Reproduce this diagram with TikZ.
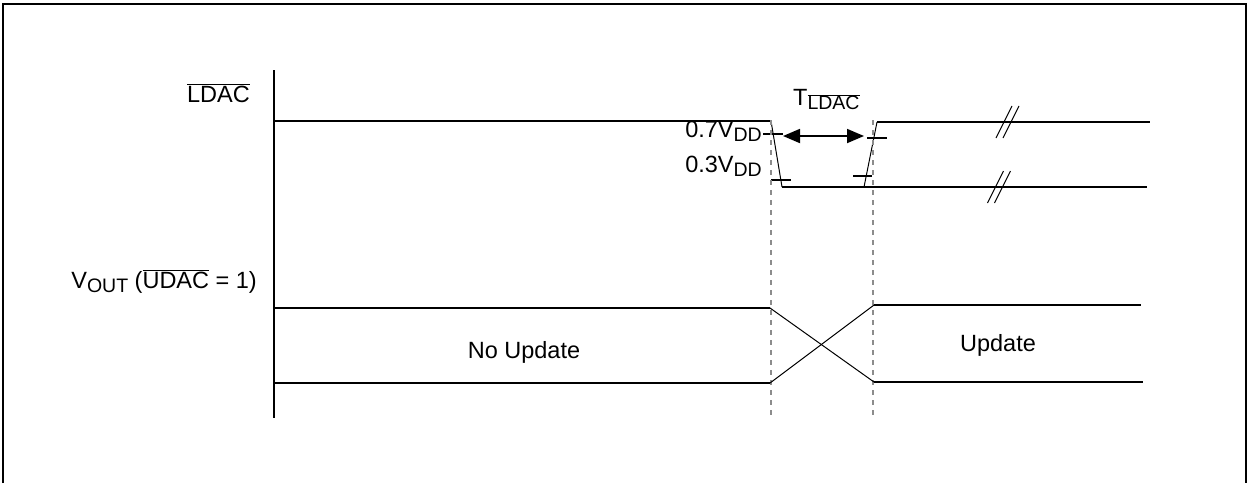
\documentclass[tikz,border=0pt]{standalone}
\usepackage{fontspec}
\setmainfont{Liberation Sans}
\usetikzlibrary{arrows.meta}

\newcommand{\lowidx}[1]{\raisebox{-0.4ex}{\fontsize{19.5}{20}\selectfont #1}}
\newcommand{\barred}[1]{$\overline{\mbox{#1}}$}

\begin{document}
\begin{tikzpicture}
		[x=1pt,y=-1pt,line cap=butt,
		%Styles
		frame line/.style={line width=2pt},
		signal line/.style={line width=2.3pt},
		edge line/.style={line width=1pt},
		guide line/.style={gray!90,line width=1.6pt,dash pattern=on 5pt off 5pt},
		tick line/.style={line width=1.5pt},
		signal text/.style={inner sep=0pt,font=\fontsize{23.5}{28}\selectfont}
		]
		
		\useasboundingbox (0,0) rectangle (1248,483);
		
		%Frame and time axis
		\draw[frame line] (3,483) -- (3,4) -- (1246,4) -- (1246,483);
		\draw[signal line] (274,70) -- (274,418);
		
		%Labels
		\node[signal text,anchor=base east] (ldac label) at (250,102) {\barred{LDAC}};
		\node[signal text,anchor=base east] (vout label) at (257,288) {V\lowidx{OUT} (\barred{UDAC} = 1)};
		\node[signal text,anchor=base east] (high level) at (762,137) {0.7V\lowidx{DD}};
		\node[signal text,anchor=base east] (low level) at (762,172) {0.3V\lowidx{DD}};
		\node[signal text,anchor=base west] (pulse label) at (793,105) {T\lowidx{\barred{LDAC}}};
		\node[signal text,anchor=base] (old value) at (524,358) {No Update};
		\node[signal text,anchor=base] (new value) at (998,351) {Update};
		
		%LDAC pulse
		\coordinate (fall top) at (771,121);
		\coordinate (fall bottom) at (782,187);
		\coordinate (rise bottom) at (864,187);
		\coordinate (rise top) at (877,122);
		
		\draw[signal line] (274,121) -- (fall top);
		\draw[edge line] (fall top) -- (fall bottom);
		\draw[signal line] (fall bottom) -- (1147,187);
		\draw[edge line] (rise bottom) -- (rise top);
		\draw[signal line] (rise top) -- (1150,122);
		
		%Break marks
		\foreach \bx/\by in {1007.5/122, 999/187}
			\foreach \dx in {-3.5,3.5}
				\draw[edge line] ({\bx+\dx-8},{\by+16}) -- ({\bx+\dx+8},{\by-16});
		
		%Threshold ticks
		\draw[tick line] (763,134) -- (783,134);
		\draw[tick line] (867,138) -- (887,138);
		\draw[tick line] (771,180) -- (791,180);
		\draw[tick line] (853,176) -- (872,176);
		
		\draw[{Triangle[length=17pt,width=14pt]}-{Triangle[length=17pt,width=14pt]},line width=1.8pt] (783,136) -- (864,136);
		
		%Guides
		\draw[guide line] (771,120) -- (771,418);
		\draw[guide line] (873,120) -- (873,418);
		
		%VOUT bus
		\coordinate (old top) at (770,308);
		\coordinate (old bottom) at (770,383);
		\coordinate (new top) at (874,305);
		\coordinate (new bottom) at (874,382);
		
		\draw[signal line] (274,308) -- (old top);
		\draw[signal line] (274,383) -- (old bottom);
		\draw[signal line] (new top) -- (1141,305);
		\draw[signal line] (new bottom) -- (1143,382);
		\draw[edge line] (old top) -- (new bottom);
		\draw[edge line] (old bottom) -- (new top);
		
	\end{tikzpicture}
\end{document}
